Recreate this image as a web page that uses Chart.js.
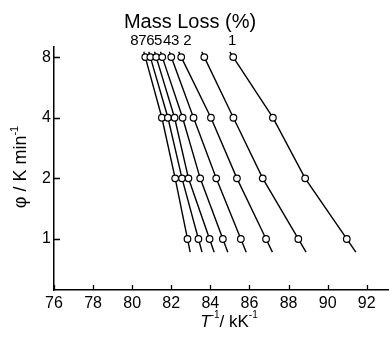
<!DOCTYPE html>
<html>
<head>
<meta charset="utf-8">
<script src="https://cdn.jsdelivr.net/npm/chart.js@4/dist/chart.umd.min.js"></script>
<style>
  html, body { margin: 0; padding: 0; background: #fff; }
  #wrap { width: 389px; height: 342px; }
</style>
</head>
<body>
<div id="wrap"><canvas id="chart" width="389" height="342"></canvas></div>
<script>
// Mass loss (%) levels, heating rates and 1/T readings (kK^-1) for each level
const massLoss = ['1', '2', '3', '4', '5', '6', '7', '8'];
const rates = [1, 2, 4, 8];
const invT1 = [90.98, 88.85, 87.20, 85.17];
const invT2 = [88.50, 86.68, 85.18, 83.69];
const invT3 = [86.85, 85.36, 84.03, 82.51];
const invT4 = [85.56, 84.30, 83.14, 82.00];
const invT5 = [84.64, 83.48, 82.58, 81.54];
const invT6 = [83.96, 82.88, 82.17, 81.23];
const invT7 = [83.39, 82.55, 81.83, 80.93];
const invT8 = [82.83, 82.20, 81.52, 80.67];
const xTicks = [76, 78, 80, 82, 84, 86, 88, 90, 92];
const yTicks = [1, 2, 4, 8];

const allSeries = [invT1, invT2, invT3, invT4, invT5, invT6, invT7, invT8];

const FONT = "'Liberation Sans Narrow', 'Liberation Sans', Arial, sans-serif";
const lineTop = 8.5;     // where the drawn lines stop above / below the points
const lineBottom = 0.86;

// line runs a little past the first and last point, along the end segments
function buildPoints(xs) {
    const l = Math.log2;
    const bot = xs[0] + (xs[1] - xs[0]) * (l(lineBottom) - l(rates[0])) / (l(rates[1]) - l(rates[0]));
    const top = xs[3] + (xs[3] - xs[2]) * (l(lineTop) - l(rates[3])) / (l(rates[3]) - l(rates[2]));
    const pts = xs.map((x, i) => ({ x: x, y: rates[i] }));
    return [{ x: bot, y: lineBottom }, ...pts, { x: top, y: lineTop }];
}

const datasets = allSeries.map((xs, i) => ({
    label: massLoss[i],
    data: buildPoints(xs),
    showLine: true,
    borderColor: '#000',
    borderWidth: 1.4,
    pointRadius: [0, 3.3, 3.3, 3.3, 3.3, 0],
    pointBackgroundColor: '#fff',
    pointBorderColor: '#000',
    pointBorderWidth: 1.2,
}));

// label spots above the top row (x in kK^-1), series 1..8
const labelX = [85.12, 82.82, 82.20, 81.79, 81.33, 80.93, 80.52, 80.11];

const decorations = {
    id: 'decorations',
    afterDraw(chart) {
        const ctx = chart.ctx;
        const xs = chart.scales.x;
        const ys = chart.scales.y;
        const area = chart.chartArea;
        ctx.save();
        ctx.strokeStyle = '#000';
        ctx.fillStyle = '#000';
        ctx.lineWidth = 1.3;

        // inward tick marks
        ctx.beginPath();
        xTicks.forEach(v => {
            const px = Math.round(xs.getPixelForValue(v)) + 0.5;
            ctx.moveTo(px, area.bottom);
            ctx.lineTo(px, area.bottom - 5);
        });
        yTicks.forEach(v => {
            const py = Math.round(ys.getPixelForValue(v)) + 0.5;
            ctx.moveTo(area.left, py);
            ctx.lineTo(area.left + 6, py);
        });
        ctx.stroke();

        // heading and series numbers
        ctx.textAlign = 'center';
        ctx.textBaseline = 'alphabetic';
        ctx.font = '20px ' + FONT;
        ctx.fillText('Mass Loss (%)', 190, 28);
        ctx.font = '15px ' + FONT;
        massLoss.forEach((m, i) => {
            ctx.fillText(m, xs.getPixelForValue(labelX[i]), 45);
        });

        // x axis title: T^-1 / kK^-1
        const parts = [
            { t: 'T', f: 'italic 17px ' + FONT, dy: 0 },
            { t: '-1', f: '10px ' + FONT, dy: -9 },
            { t: '/ kK', f: '17px ' + FONT, dy: 0 },
            { t: '-1', f: '10px ' + FONT, dy: -9 },
        ];
        let w = 0;
        parts.forEach(p => { ctx.font = p.f; w += ctx.measureText(p.t).width; });
        let x = 229 - w / 2;
        ctx.textAlign = 'left';
        parts.forEach(p => {
            ctx.font = p.f;
            ctx.fillText(p.t, x, 327 + p.dy);
            x += ctx.measureText(p.t).width;
        });

        // y axis title: phi / K min^-1
        ctx.translate(26, 167);
        ctx.rotate(-Math.PI / 2);
        const yParts = [
            { t: 'φ / K min', f: '18px ' + FONT, dy: 0 },
            { t: '-1', f: '11px ' + FONT, dy: -8 },
        ];
        w = 0;
        yParts.forEach(p => { ctx.font = p.f; w += ctx.measureText(p.t).width; });
        x = -w / 2;
        yParts.forEach(p => {
            ctx.font = p.f;
            ctx.fillText(p.t, x, p.dy);
            x += ctx.measureText(p.t).width;
        });
        ctx.restore();
    }
};

Chart.defaults.font.family = FONT;
Chart.defaults.color = '#000';

const chart = new Chart(document.getElementById('chart'), {
    type: 'scatter',
    data: { datasets: datasets },
    options: {
        responsive: false,
        animation: false,
        layout: { padding: { top: 47, right: 0, left: 0, bottom: 0 } },
        plugins: {
            legend: { display: false },
            tooltip: { enabled: false },
        },
        scales: {
            x: {
                type: 'linear',
                min: 76,
                max: 93.14,
                afterBuildTicks: s => { s.ticks = xTicks.map(v => ({ value: v })); },
                afterFit: s => { s.height = 52; },
                grid: { display: false, drawTicks: false },
                border: { display: true, color: '#000', width: 1.5 },
                ticks: { font: { size: 16 }, padding: 4, maxRotation: 0 },
            },
            y: {
                type: 'logarithmic',
                min: 0.558,
                max: 8.98,
                afterBuildTicks: s => { s.ticks = yTicks.map(v => ({ value: v })); },
                afterFit: s => { s.width = 54; },
                grid: { display: false, drawTicks: false },
                border: { display: true, color: '#000', width: 1.5 },
                ticks: { font: { size: 16 }, padding: 3, callback: v => String(v) },
            },
        },
    },
    plugins: [decorations],
});
</script>
</body>
</html>
